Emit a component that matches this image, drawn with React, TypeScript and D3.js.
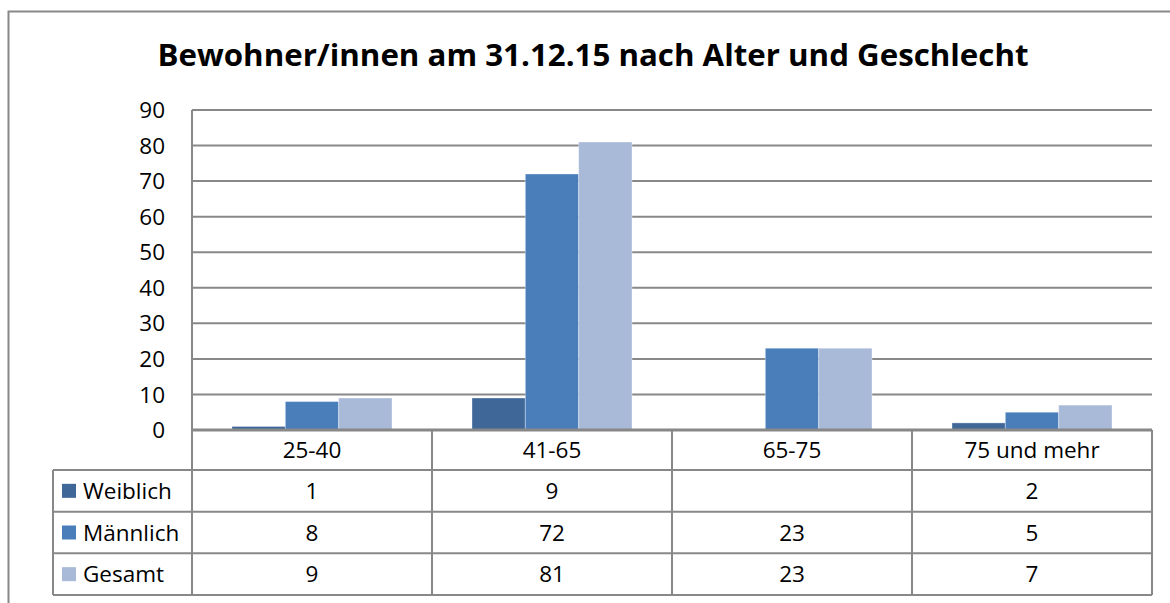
import React, { useEffect, useRef } from "react";
import * as d3 from "d3";

const title = "Bewohner/innen am 31.12.15 nach Alter und Geschlecht";
const categories = ["25-40", "41-65", "65-75", "75 und mehr"];
const series = ["Weiblich", "Männlich", "Gesamt"];
const weiblich: (number | null)[] = [1, 9, null, 2];
const maennlich: (number | null)[] = [8, 72, 23, 5];
const gesamt: (number | null)[] = [9, 81, 23, 7];
const yTicks = [0, 10, 20, 30, 40, 50, 60, 70, 80, 90];
const colors = ["#3F6899", "#4A7EBB", "#A9B9D8"];

export default function App() {
  const ref = useRef<SVGSVGElement>(null);

  useEffect(() => {
    const width = 1170;
    const height = 603;
    const font = "'Open Sans', sans-serif";
    const fs = 22.5;
    const lineCol = "#888888";
    const values = [weiblich, maennlich, gesamt];

    const svg = d3.select(ref.current);
    svg.selectAll("*").remove();

    // outer frame
    svg
      .append("rect")
      .attr("x", 8.5)
      .attr("y", 11.5)
      .attr("width", width)
      .attr("height", height)
      .attr("fill", "white")
      .attr("stroke", lineCol)
      .attr("stroke-width", 2);

    svg
      .append("text")
      .attr("x", 593)
      .attr("y", 66)
      .attr("text-anchor", "middle")
      .attr("font-family", font)
      .attr("font-weight", "bold")
      .attr("font-size", 30)
      .attr("textLength", 871)
      .attr("lengthAdjust", "spacingAndGlyphs")
      .text(title);

    const left = 192, right = 1152, top = 110, bottom = 430;
    const x = d3.scaleBand().domain(categories).range([left, right]);
    const xs = d3
      .scaleBand()
      .domain(series)
      .range([0, x.bandwidth()])
      .paddingOuter(0.75);
    const y = d3.scaleLinear().domain([0, 90]).range([bottom, top]);

    // grid
    svg
      .append("g")
      .selectAll("line")
      .data(yTicks.filter((t) => t > 0))
      .enter()
      .append("line")
      .attr("x1", left)
      .attr("x2", right)
      .attr("y1", (d) => y(d))
      .attr("y2", (d) => y(d))
      .attr("stroke", lineCol)
      .attr("stroke-width", 2);

    // y tick labels
    svg
      .append("g")
      .selectAll("text")
      .data(yTicks)
      .enter()
      .append("text")
      .attr("x", 165)
      .attr("y", (d) => y(d))
      .attr("dy", "0.36em")
      .attr("text-anchor", "end")
      .attr("font-family", font)
      .attr("font-size", fs)
      .text((d) => d);

    // bars
    series.forEach((s, si) => {
      svg
        .append("g")
        .selectAll("rect")
        .data(values[si].map((v, i) => ({ v, c: categories[i] })).filter((d) => d.v != null))
        .enter()
        .append("rect")
        .attr("x", (d) => (x(d.c) as number) + (xs(s) as number))
        .attr("y", (d) => y(d.v as number))
        .attr("width", xs.bandwidth())
        .attr("height", (d) => bottom - y(d.v as number))
        .attr("fill", colors[si])
        .attr("stroke", "rgba(255,255,255,0.35)")
        .attr("stroke-width", 1);
    });

    // y axis line
    svg
      .append("line")
      .attr("x1", left)
      .attr("x2", left)
      .attr("y1", top)
      .attr("y2", bottom)
      .attr("stroke", lineCol)
      .attr("stroke-width", 2);

    // data table
    const tableLeft = 53;
    const rowY = d3.scaleBand().domain(series).range([470, 595]);
    const t = svg.append("g");

    t.append("line")
      .attr("x1", left)
      .attr("x2", right)
      .attr("y1", bottom)
      .attr("y2", bottom)
      .attr("stroke", lineCol)
      .attr("stroke-width", 3);

    [...categories.map((c) => x(c) as number), right].forEach((xv) => {
      t.append("line")
        .attr("x1", xv)
        .attr("x2", xv)
        .attr("y1", bottom)
        .attr("y2", 595)
        .attr("stroke", lineCol)
        .attr("stroke-width", 2);
    });

    t.append("line")
      .attr("x1", tableLeft)
      .attr("x2", tableLeft)
      .attr("y1", 470)
      .attr("y2", 595)
      .attr("stroke", lineCol)
      .attr("stroke-width", 2);

    [470, ...series.map((s) => (rowY(s) as number) + rowY.bandwidth())].forEach((yv) => {
      t.append("line")
        .attr("x1", tableLeft)
        .attr("x2", right)
        .attr("y1", yv)
        .attr("y2", yv)
        .attr("stroke", lineCol)
        .attr("stroke-width", 2);
    });

    t.selectAll(".cat")
      .data(categories)
      .enter()
      .append("text")
      .attr("x", (d) => (x(d) as number) + x.bandwidth() / 2)
      .attr("y", 450)
      .attr("dy", "0.36em")
      .attr("text-anchor", "middle")
      .attr("font-family", font)
      .attr("font-size", fs)
      .text((d) => d);

    series.forEach((s, si) => {
      const cy = (rowY(s) as number) + rowY.bandwidth() / 2;
      t.append("rect")
        .attr("x", 62)
        .attr("y", cy - 7)
        .attr("width", 14)
        .attr("height", 14)
        .attr("fill", colors[si]);
      t.append("text")
        .attr("x", 83)
        .attr("y", cy)
        .attr("dy", "0.36em")
        .attr("font-family", font)
        .attr("font-size", fs)
        .text(s);
      values[si].forEach((v, i) => {
        if (v == null) return;
        t.append("text")
          .attr("x", (x(categories[i]) as number) + x.bandwidth() / 2)
          .attr("y", cy)
          .attr("dy", "0.36em")
          .attr("text-anchor", "middle")
          .attr("font-family", font)
          .attr("font-size", fs)
          .text(v);
      });
    });
  }, []);

  return (
    <svg
      ref={ref}
      width={1170}
      height={603}
      style={{ position: "absolute", left: 0, top: 0, background: "white" }}
    />
  );
}
